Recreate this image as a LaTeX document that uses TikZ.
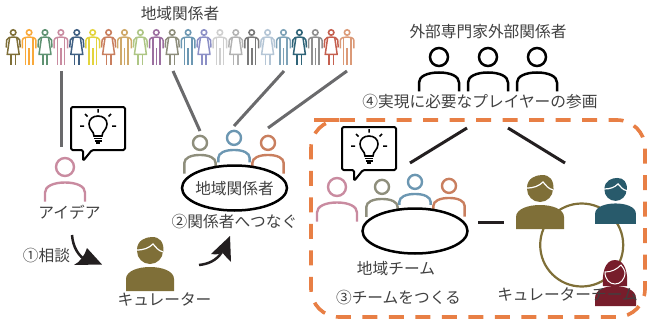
\documentclass[tikz,border=0pt]{standalone}
\usepackage{fontspec}
\setmainfont{Noto Sans CJK JP}
\usetikzlibrary{calc,shapes.geometric}
\definecolor{txt}{HTML}{404040}
\definecolor{cA}{HTML}{7F6F38}
\definecolor{cB}{HTML}{F9A93A}
\definecolor{cC}{HTML}{5F9272}
\definecolor{cD}{HTML}{C98BA0}
\definecolor{cE}{HTML}{3F5F82}
\definecolor{cF}{HTML}{E3D43E}
\definecolor{cG}{HTML}{C97F5F}
\definecolor{cH}{HTML}{CFA96A}
\definecolor{cI}{HTML}{AEC685}
\definecolor{cJ}{HTML}{9C6FA0}
\definecolor{cK}{HTML}{8E8E7C}
\definecolor{cL}{HTML}{6C97B2}
\definecolor{cM}{HTML}{8C90C6}
\definecolor{cN}{HTML}{CFCFCF}
\definecolor{cO}{HTML}{B3B3B3}
\definecolor{cP}{HTML}{7A7A7A}
\definecolor{cQ}{HTML}{B5C6D6}
\definecolor{cR}{HTML}{7FA3B8}
\definecolor{cS}{HTML}{2F6478}
\definecolor{cT}{HTML}{8F8F8F}
\definecolor{cU}{HTML}{C5604F}
\definecolor{cV}{HTML}{DB9A78}
\definecolor{orangedash}{HTML}{E87F45}
\definecolor{tealp}{HTML}{285A6B}
\definecolor{wine}{HTML}{771D2B}
\definecolor{greyline}{HTML}{6A6A6C}
\definecolor{arrowk}{HTML}{231F20}
\tikzset{
 x=1pt,y=-1pt,
 lab/.style={inner sep=0pt,font=\fontsize{15.7}{17}\selectfont,text=txt,anchor=center},
 link/.style={draw=greyline,line width=3pt},
 blackline/.style={draw=arrowk,line width=3pt},
 tableell/.style={draw=black,fill=white,line width=2.5pt,shape=ellipse,minimum width=105pt,minimum height=45pt,inner sep=0pt},
 pics/outp/.style args={#1/#2/#3/#4}{code={
  \begin{scope}[scale=#3]
  \draw[#1,line width=#2] (0,-24.5) circle (9);
  \draw[#1,line width=#2,line cap=butt] (-20,#4) -- (-20,1) .. controls (-20,-5) and (-12,-9) .. (0,-9) .. controls (12,-9) and (20,-5) .. (20,1) -- (20,#4);
  \end{scope}
 }},
 pics/fem/.style={code={
  \draw[#1,line width=1.6pt] (0,-16.5) circle (2.7);
  \draw[#1,line width=1.5pt,line join=round] (-7,-1.5) -- (-6.5,-9) .. controls (-6,-11.5) and (-3,-12) .. (0,-12) .. controls (3,-12) and (6,-11.5) .. (6.5,-9) -- (7,-1.5);
  \draw[#1,line width=1.5pt,line join=round] (-3.6,-11) -- (-6,5.5) -- (6,5.5) -- (3.6,-11);
  \draw[#1,line width=1.6pt] (-2.2,5.5) -- (-2.2,16) (2.2,5.5) -- (2.2,16);
 }},
 pics/mal/.style={code={
  \draw[#1,line width=1.6pt] (0,-16.5) circle (2.7);
  \draw[#1,line width=1.5pt,line join=round] (-6.8,-0.5) -- (-6.8,-8.5) .. controls (-6.5,-11.5) and (-3,-12) .. (0,-12) .. controls (3,-12) and (6.5,-11.5) .. (6.8,-8.5) -- (6.8,-0.5);
  \draw[#1,line width=1.6pt,line join=round] (-3.6,-11.5) -- (-3.6,16) (3.6,-11.5) -- (3.6,16) (0,-1) -- (0,16);
 }},
 pics/solidp/.style args={#1/#2}{code={
  \begin{scope}[scale=#2]
  \fill[#1] (-24,31) -- (-24,19) .. controls (-24,11) and (-12,7) .. (0,7) .. controls (12,7) and (24,11) .. (24,19) -- (24,31) -- cycle;
  \fill[#1] (0,-9) circle (13);
  \fill[#1] (-13,-10) .. controls (-13,-20) and (-4,-23) .. (2,-23) .. controls (10,-23) and (14,-18) .. (13.5,-8) -- cycle;
  \draw[white,line width=1.2pt] (-13.5,-10) .. controls (-6,-10) and (-1,-12) .. (3,-16) .. controls (6,-13) and (8,-9) .. (13.5,-8);
  \end{scope}
 }},
 pics/bubble/.style={code={
  \draw[black,fill=white,line width=2pt,line join=round,rounded corners=1.5pt] (0,0) -- (54,0) -- (54,43) -- (21,43) -- (12,54) -- (12,43) -- (0,43) -- cycle;
  \begin{scope}[shift={(27,21)}]
  \draw[black,line width=1.6pt] (-4,8) .. controls (-4,3) and (-9,2) .. (-9,-4) .. controls (-9,-9) and (-5,-12) .. (0,-12) .. controls (5,-12) and (9,-9) .. (9,-4) .. controls (9,2) and (4,3) .. (4,8) -- cycle;
  \draw[black,line width=1.3pt] (-4,10.5) -- (4,10.5) (-3.5,13) -- (3.5,13);
  \draw[black,line width=1.6pt] (-2,15.2) -- (2,15.2);
  \draw[black,line width=1.5pt] (0,-15.5) -- (0,-19) (-10.5,-11.5) -- (-13,-14) (10.5,-11.5) -- (13,-14) (-14,-2) -- (-18,-2) (14,-2) -- (18,-2);
  \end{scope}
 }}
}
\begin{document}
\begin{tikzpicture}
\useasboundingbox (0,0) rectangle (668,326);
% crowd
\foreach \i/\c in {0/cA,2/cC,4/cE,6/cG,8/cI,10/cK,12/cM,14/cO,16/cQ,18/cS,20/cU}
  \pic at ({13.2+15.9*\i},49) {fem=\c};
\foreach \i/\c in {1/cB,3/cD,5/cF,7/cH,9/cJ,11/cL,13/cN,15/cP,17/cR,19/cT,21/cV}
  \pic at ({13.2+15.9*\i},49) {mal=\c};
\node[lab] (tcrowd) at (180,14) {地域関係者};
% grey links
\coordinate (l1a) at (61,71); \coordinate (l1b) at (61,147);
\coordinate (l2a) at (173,71); \coordinate (l2b) at (200,131);
\coordinate (l3a) at (284,71); \coordinate (l3b) at (234,126);
\coordinate (l4a) at (347,71); \coordinate (l4b) at (268,128);
\draw[link] (l1a) -- (l1b);
\draw[link] (l2a) -- (l2b);
\draw[link] (l3a) -- (l3b);
\draw[link] (l4a) -- (l4b);
% idea person
\pic at (65,191.5) {outp=cD/2.4pt/1/10};
\pic at (71,107) {bubble};
\node[lab] (tidea) at (69.5,212) {アイデア};
% arrow 1
\node[lab] (tsoudan) at (46.5,256) {①相談};
\coordinate (a1s) at (72,235); \coordinate (a1e) at (102,264.5);
\draw[arrowk,line width=2.5pt] (a1s) .. controls (73,247) and (78,256) .. (88,262);
\fill[arrowk] (a1e) -- (74,265) .. controls (80,262) and (85,255) .. (87,248) -- cycle;
% curator
\pic at (150,260) {solidp=cA/1};
\node[lab] (tcur) at (164.5,299) {キュレーター};
% arrow 2
\coordinate (a2s) at (199,265); \coordinate (a2e) at (230,236);
\draw[arrowk,line width=2.5pt] (a2s) .. controls (208,264) and (216,261) .. (222,252);
\fill[arrowk] (a2e) -- (211,254) .. controls (217,255) and (220,254) .. (222,252) .. controls (225,256) and (229,260) .. (231,262) -- cycle;
% stakeholder group
\pic at (200,162) {outp=cK/2.4pt/0.78/15};
\pic at (234,157) {outp=cL/2.4pt/0.78/7};
\pic at (268,162) {outp=cG/2.4pt/0.78/15};
\node[tableell] (ell1) at (234.5,188) {};
\node[lab] (tell1) at (234.5,188.5) {地域関係者};
\node[lab] (ttsu) at (234.5,222) {②関係者へつなぐ};
% external
\node[lab] (text) at (488,32) {外部専門家外部関係者};
\pic at (439,81.5) {outp=black/2.5pt/1/10};
\pic at (488,81.5) {outp=black/2.5pt/1/10};
\pic at (537,81.5) {outp=black/2.5pt/1/10};
\node[lab] (tplay) at (480,102) {④実現に必要なプレイヤーの参画};
% dashed frame
\draw[orangedash,line width=3.6pt,dash pattern=on 15pt off 11.5pt,rounded corners=28pt] (342,120) -- (645,120) -- (645,317) -- (311,317) -- (311,120) -- cycle;
% black lines
\coordinate (b1a) at (410,163); \coordinate (b1b) at (467,128);
\coordinate (b2a) at (508,128); \coordinate (b2b) at (565,163);
\coordinate (b3a) at (478,222); \coordinate (b3b) at (504,222);
\draw[blackline] (b1a) -- (b1b);
\draw[blackline] (b2a) -- (b2b);
\draw[blackline] (b3a) -- (b3b);
% local team
\pic at (337,211.5) {outp=cD/2.4pt/1/10};
\pic at (382,206) {outp=cK/2.4pt/0.78/14};
\pic at (415,201) {outp=cL/2.4pt/0.78/5};
\pic at (449,205) {outp=cG/2.4pt/0.78/15};
\pic at (342,127) {bubble};
\node[tableell] (ell2) at (415,231) {};
\node[lab] (tteam) at (396,269) {地域チーム};
\node[lab] (tmk) at (398.5,298) {③チームをつくる};
% curator team
\draw[cA,line width=2.2pt] (581.7,245) circle (41.5);
\pic at (540,198) {solidp=cA/1};
\pic at (615.5,197.5) {solidp=tealp/0.85};
% woman
\fill[wine] (595,306) -- (595,298) .. controls (595,290) and (605,286) .. (615,286) .. controls (625,286) and (636,290) .. (636,298) -- (636,306) -- cycle;
\fill[wine] (603,286) .. controls (602,275) and (604,260) .. (615,260) .. controls (626,260) and (628,275) .. (627,286) -- cycle;
\draw[white,line width=1pt,fill=wine] (605,272) .. controls (612,272) and (617,269) .. (621,265) .. controls (623,268) and (625,270) .. (625,272) .. controls (625,280) and (620,284) .. (615,284) .. controls (610,284) and (605,280) .. (605,272) -- cycle;
\node[lab] (tcteam) at (567.5,294) {キュレーターチーム};
\end{tikzpicture}
\end{document}
